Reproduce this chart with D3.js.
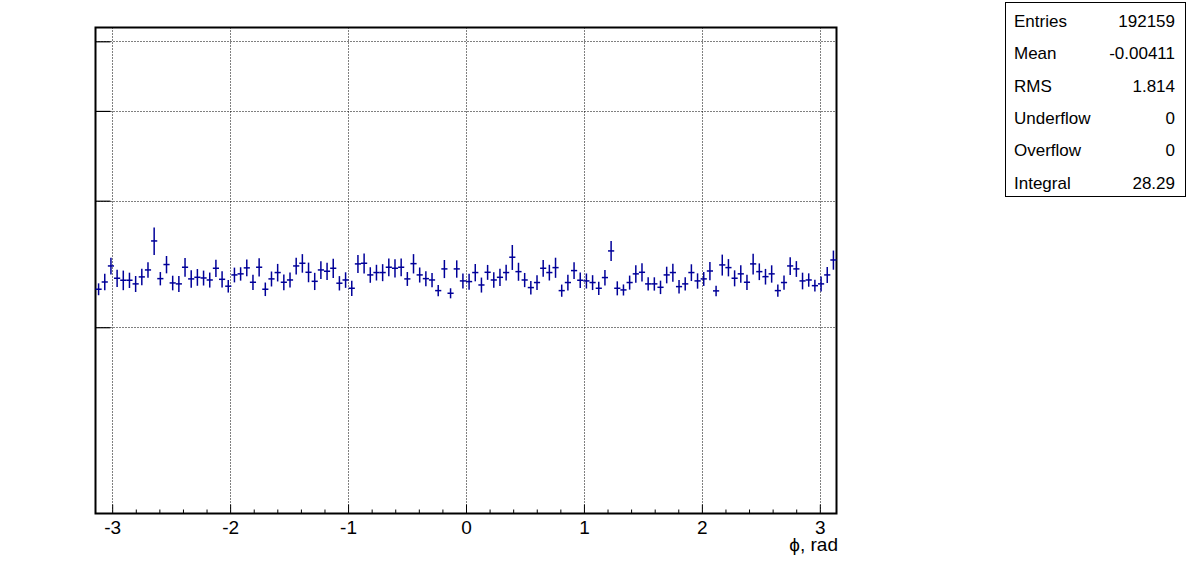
<!DOCTYPE html>
<html><head><meta charset="utf-8">
<script src="https://cdn.jsdelivr.net/npm/d3@7"></script>
<style>
body{margin:0;background:#fff;}
svg{display:block;font-family:"Liberation Sans",Arial,Helvetica,sans-serif;}
</style>
</head><body>
<svg id="c" width="1196" height="572"></svg>
<script>
// ---- data ----
const xMin = -Math.PI, xMax = Math.PI, nBins = 120;
const binValues = [
0.2259,0.2312,0.2434,0.2340,0.2325,0.2325,0.2298,0.2350,0.2403,0.2637,
0.2337,0.2445,0.2305,0.2298,0.2424,0.2335,0.2347,0.2342,0.2327,0.2416,
0.2332,0.2281,0.2365,0.2373,0.2419,0.2310,0.2424,0.2259,0.2335,0.2383,
0.2310,0.2327,0.2434,0.2455,0.2385,0.2317,0.2403,0.2393,0.2416,0.2303,
0.2327,0.2266,0.2450,0.2455,0.2365,0.2383,0.2383,0.2424,0.2416,0.2424,
0.2335,0.2452,0.2365,0.2337,0.2327,0.2249,0.2411,0.2230,0.2411,0.2320,
0.2315,0.2383,0.2290,0.2385,0.2327,0.2347,0.2383,0.2503,0.2390,0.2327,
0.2271,0.2308,0.2416,0.2383,0.2421,0.2249,0.2308,0.2398,0.2325,0.2320,
0.2308,0.2266,0.2345,0.2554,0.2266,0.2254,0.2308,0.2373,0.2385,0.2298,
0.2298,0.2273,0.2365,0.2383,0.2278,0.2298,0.2383,0.2320,0.2335,0.2395,
0.2247,0.2442,0.2421,0.2340,0.2373,0.2310,0.2450,0.2390,0.2352,0.2373,
0.2249,0.2308,0.2434,0.2411,0.2320,0.2327,0.2285,0.2298,0.2365,0.2481
];
const binErrors = [
0.0043,0.0061,0.0065,0.0064,0.0073,0.0057,0.0059,0.0062,0.0060,0.0117,
0.0050,0.0068,0.0054,0.0059,0.0073,0.0065,0.0063,0.0056,0.0056,0.0067,
0.0060,0.0046,0.0056,0.0051,0.0065,0.0056,0.0071,0.0049,0.0056,0.0067,
0.0058,0.0056,0.0065,0.0073,0.0075,0.0064,0.0068,0.0066,0.0074,0.0053,
0.0058,0.0056,0.0071,0.0079,0.0059,0.0060,0.0065,0.0069,0.0070,0.0069,
0.0052,0.0076,0.0057,0.0056,0.0053,0.0040,0.0070,0.0036,0.0067,0.0055,
0.0059,0.0066,0.0055,0.0057,0.0058,0.0065,0.0060,0.0100,0.0069,0.0053,
0.0049,0.0055,0.0065,0.0060,0.0078,0.0044,0.0059,0.0064,0.0058,0.0056,
0.0055,0.0048,0.0058,0.0082,0.0051,0.0040,0.0052,0.0066,0.0070,0.0049,
0.0049,0.0049,0.0063,0.0069,0.0049,0.0049,0.0064,0.0057,0.0052,0.0070,
0.0038,0.0082,0.0067,0.0060,0.0066,0.0056,0.0082,0.0064,0.0059,0.0066,
0.0044,0.0052,0.0069,0.0061,0.0062,0.0050,0.0043,0.0055,0.0061,0.0076
];
const xTickValues = [-3, -2, -1, 0, 1, 2, 3];
const yTickValues = [0.2, 0.3, 0.4, 0.5];
const yDomain = [0.1101, 0.5226];
const statsLabels = ["Entries", "Mean", "RMS", "Underflow", "Overflow", "Integral"];
const statsValues = ["192159", "-0.00411", "1.814", "0", "0", "28.29"];
const xTitle = "\u03D5, rad";

// ---- layout ----
const svg = d3.select("#c");
const L = 95.5, R = 836.5, T = 27.5, B = 513.5;
const markColor = "#000099";

const x = d3.scaleLinear().domain([xMin, xMax]).range([L, R]);
const y = d3.scaleLog().domain(yDomain).range([B, T]);

svg.append("rect").attr("width", 1196).attr("height", 572).attr("fill", "#fff");

// grid
const grid = svg.append("g").attr("stroke", "#000").attr("stroke-width", 1)
  .attr("stroke-dasharray", "1,2").attr("fill", "none");
grid.selectAll(".gx").data(xTickValues).enter().append("line")
  .attr("x1", d => Math.round(x(d)) + 0.5).attr("x2", d => Math.round(x(d)) + 0.5)
  .attr("y1", T).attr("y2", B);
grid.selectAll(".gy").data(yTickValues).enter().append("line")
  .attr("y1", d => Math.round(y(d)) + 0.5).attr("y2", d => Math.round(y(d)) + 0.5)
  .attr("x1", L).attr("x2", R);

// x axis major ticks + labels
const xAxis = d3.axisBottom(x).tickValues(xTickValues).tickSize(-9)
  .tickFormat(d => d3.format("d")(d).replace("\u2212", "-"));
const gx = svg.append("g").attr("transform", `translate(0,${B})`).call(xAxis);
gx.select(".domain").remove();
gx.selectAll("line").attr("stroke", "#000").attr("stroke-width", 1);
gx.selectAll("text").attr("font-size", 19).attr("fill", "#000")
  .attr("font-family", "Liberation Sans, Arial, sans-serif").attr("dy", null).attr("y", 20.5);

// x axis minor ticks
const minorTicks = d3.range(-15, 16).map(k => k / 5).filter(v => v > xMin && v < xMax && Math.abs(v - Math.round(v)) > 1e-6);
const xMinor = d3.axisBottom(x).tickValues(minorTicks).tickSize(-4).tickFormat("");
const gxm = svg.append("g").attr("transform", `translate(0,${B})`).call(xMinor);
gxm.select(".domain").remove();
gxm.selectAll("line").attr("stroke", "#000").attr("stroke-width", 1);

// y axis ticks (no labels)
const yAxis = d3.axisLeft(y).tickValues(yTickValues).tickSize(-15).tickFormat("");
const gy = svg.append("g").attr("transform", `translate(${L},0)`).call(yAxis);
gy.select(".domain").remove();
gy.selectAll("line").attr("stroke", "#000").attr("stroke-width", 1.2);

// frame
svg.append("rect").attr("x", L).attr("y", T).attr("width", R - L).attr("height", B - T)
  .attr("fill", "none").attr("stroke", "#000").attr("stroke-width", 2);

// data points with error bars
const bw = (xMax - xMin) / nBins;
const pts = binValues.map((v, i) => ({
  lo: xMin + i * bw, hi: xMin + (i + 1) * bw, c: xMin + (i + 0.5) * bw, v, e: binErrors[i]
}));
const g = svg.append("g").attr("stroke", markColor).attr("stroke-width", 1.5).attr("fill", "none");
g.selectAll(".h").data(pts).enter().append("line")
  .attr("x1", d => x(d.lo)).attr("x2", d => x(d.hi))
  .attr("y1", d => y(d.v)).attr("y2", d => y(d.v));
g.selectAll(".v").data(pts).enter().append("line")
  .attr("x1", d => x(d.c)).attr("x2", d => x(d.c))
  .attr("y1", d => y(d.v - d.e)).attr("y2", d => y(d.v + d.e));

// x title
svg.append("text").attr("x", R + 1.5).attr("y", 551).attr("text-anchor", "end")
  .attr("font-size", 19).attr("fill", "#000").text(xTitle);

// stats box
svg.append("rect").attr("x", 1005.5).attr("y", 2.5).attr("width", 180).attr("height", 194)
  .attr("fill", "#fff").attr("stroke", "#000").attr("stroke-width", 1);
const rowBase = [27, 59.3, 91.7, 124, 156.3, 188.6];
svg.selectAll(".sl").data(statsLabels).enter().append("text")
  .attr("x", 1014).attr("y", (d, i) => rowBase[i]).attr("font-size", 17).attr("fill", "#000").text(d => d);
svg.selectAll(".sv").data(statsValues).enter().append("text")
  .attr("x", 1175).attr("y", (d, i) => rowBase[i]).attr("text-anchor", "end")
  .attr("font-size", 17).attr("fill", "#000").text(d => d);
</script>
</body></html>
